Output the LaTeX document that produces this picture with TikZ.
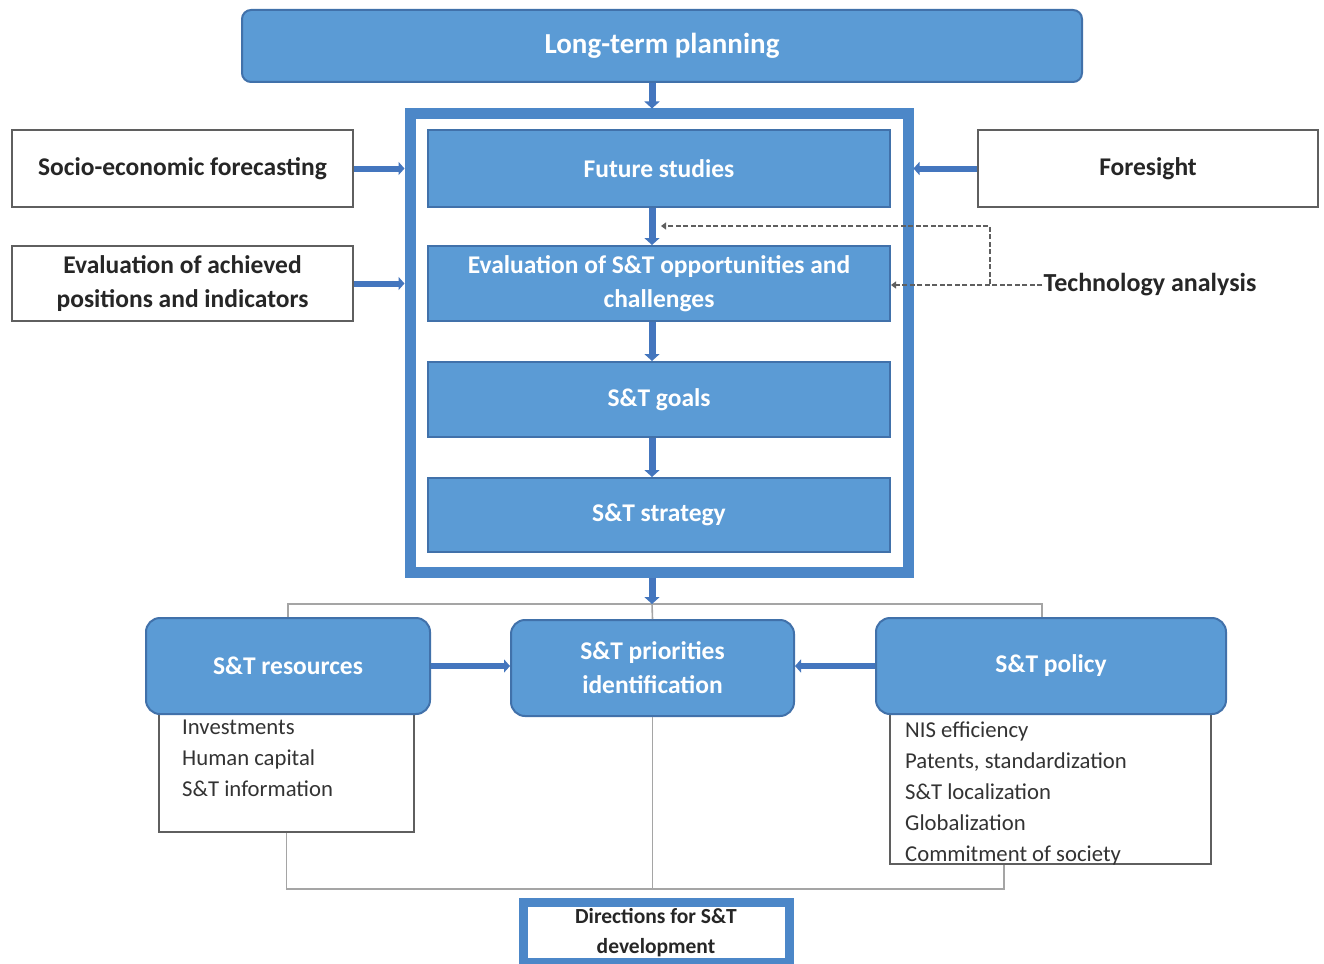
\documentclass[tikz,border=0pt]{standalone}
\usepackage{fontspec}
\setmainfont{Carlito}
\usetikzlibrary{arrows.meta,calc}
\definecolor{bfill}{RGB}{91,155,213}
\definecolor{bline}{RGB}{65,113,170}
\definecolor{barrow}{RGB}{68,118,190}
\definecolor{framec}{RGB}{76,135,200}
\definecolor{gline}{RGB}{165,165,165}
\definecolor{dline}{RGB}{95,95,95}
\tikzset{
 bluebox/.style={draw=bline, fill=bfill, line width=2pt, text=white, font=\fontsize{25.5}{34}\selectfont\bfseries, align=center, inner sep=0pt},
 topbox/.style={bluebox, rounded corners=9pt, font=\fontsize{29}{30}\selectfont\bfseries},
 roundbox/.style={bluebox, rounded corners=14pt},
 labelbox/.style={draw=dline, fill=white, line width=1.5pt, font=\fontsize{25.5}{34}\selectfont\bfseries, align=center, text=black!85, inner sep=0pt},
 subbox/.style={draw=dline, fill=white, line width=1.5pt, inner sep=0pt},
 listtext/.style={font=\fontsize{22.7}{31}\selectfont, align=left, text=black!80, anchor=north west, inner sep=0pt},
 flow/.style={draw=barrow, line width=7pt, -{Triangle[width=15pt,length=7pt]}},
 sideflow/.style={draw=barrow, line width=6pt, -{Triangle[width=13pt,length=6pt]}},
 dashflow/.style={draw=dline, line width=1.8pt, dash pattern=on 5pt off 2.5pt, -{Triangle[width=7pt,length=5pt]}},
 grayline/.style={draw=gline, line width=1.6pt},
 framebox/.style={draw=framec, line width=11pt, fill=white, inner sep=0pt},
 dirbox/.style={draw=framec, line width=9pt, fill=white, text=black!85, font=\fontsize{21.5}{30}\selectfont\bfseries, align=center, inner sep=0pt},
 techlabel/.style={font=\fontsize{26}{30}\selectfont\bfseries, text=black!85, inner sep=1pt}
}
\begin{document}
\begin{tikzpicture}[x=1pt,y=-1pt]
\useasboundingbox (0,0) rectangle (1324,963);
\fill[white] (0,0) rectangle (1324,963);
\coordinate (ax) at (652,0);
\coordinate (pc) at (1042,0);
\coordinate (split) at (652,604);
\coordinate (bj) at (1004,889);
\coordinate (tb) at (990,284);
\coordinate (fsgap) at (661,226);

% top
\node[topbox, minimum width=840pt, minimum height=72pt] (top) at (662,46) {Long-term planning};
% frame
\node[framebox, minimum width=498pt, minimum height=458pt] (outer) at (659,343) {};
% dashed technology analysis
\node[techlabel] (tech) at (1150,285) {Technology analysis};
% inner boxes
\node[bluebox, minimum width=462pt, minimum height=77pt] (fs) at (659,168.5) {Future studies};
\node[bluebox, minimum width=462pt, minimum height=75pt] (ev) at (659,283.5) {Evaluation of S\&T opportunities and\\challenges};
\node[bluebox, minimum width=462pt, minimum height=75pt] (goals) at (659,399.5) {S\&T goals};
\node[bluebox, minimum width=462pt, minimum height=74pt] (strat) at (659,515) {S\&T strategy};
% side label boxes
\node[labelbox, minimum width=341pt, minimum height=77pt] (socio) at (182.5,168.5) {Socio-economic forecasting};
\node[labelbox, minimum width=341pt, minimum height=75pt] (achv) at (182.5,283.5) {Evaluation of achieved\\positions and indicators};
\node[labelbox, minimum width=340pt, minimum height=77pt] (fore) at (1148,168.5) {Foresight};

\draw[dashflow] (tech.west) -- (tech.west -| ev.east);
\draw[dashflow] (tb) |- (fsgap);

% arrows in upper part
\draw[flow] (top.south -| ax) -- (outer.north -| ax);
\draw[flow] (fs.south -| ax) -- (ev.north -| ax);
\draw[flow] (ev.south -| ax) -- (goals.north -| ax);
\draw[flow] (goals.south -| ax) -- (strat.north -| ax);
\draw[sideflow] (socio.east) -- (socio.east -| outer.west);
\draw[sideflow] (achv.east) -- (achv.east -| outer.west);
\draw[sideflow] (fore.west) -- (fore.west -| outer.east);

% lower part
\node[subbox, minimum width=255pt, minimum height=142pt] (ressub) at (286.5,761) {};
\node[subbox, minimum width=321pt, minimum height=174pt] (polsub) at (1050.5,777) {};
\node[roundbox, minimum width=284pt, minimum height=96pt] (res) at (288,666) {S\&T resources};
\node[roundbox, minimum width=283pt, minimum height=96pt] (prio) at (652.5,668) {S\&T priorities\\identification};
\node[roundbox, minimum width=350pt, minimum height=96pt] (pol) at (1051,666) {S\&T policy};
\node[listtext] (reslist) at (182,720) {Investments\\Human capital\\S\&T information};
\node[listtext] (pollist) at (905,722) {NIS efficiency\\Patents, standardization\\S\&T localization\\Globalization\\Commitment of society};

\draw[grayline] (res.north) |- (split) -| (pol.north -| pc);
\draw[grayline] (split) -- (prio.north);
\draw[flow] (outer.south -| ax) -- (split);
\draw[sideflow] (res.east) -- (res.east -| prio.west);
\draw[sideflow] (pol.west) -- (pol.west -| prio.east);

\draw[grayline] (ressub.south) |- (bj) -- (bj |- polsub.south);
\draw[grayline] (prio.south) -- (prio.south |- bj);

\node[dirbox, minimum width=266pt, minimum height=60pt] (dir) at (656,932.5) {Directions for S\&T\\development};
\end{tikzpicture}
\end{document}
